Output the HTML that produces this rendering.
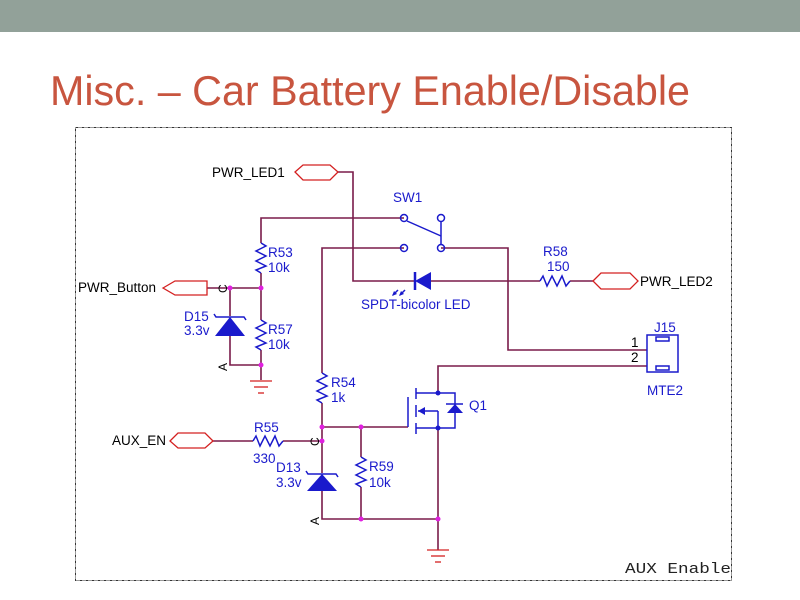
<!DOCTYPE html>
<html><head><meta charset="utf-8"><style>
html,body{margin:0;padding:0;background:#fff;width:800px;height:600px;overflow:hidden}
</style></head><body>
<svg width="800" height="600" viewBox="0 0 800 600" xmlns="http://www.w3.org/2000/svg" font-family="Liberation Sans, sans-serif">
<rect x="0" y="0" width="800" height="32" fill="#92a199"/>
<text x="50" y="105" font-size="42" fill="#c8553f" textLength="640" lengthAdjust="spacingAndGlyphs">Misc. – Car Battery Enable/Disable</text>
<rect x="75.5" y="127.5" width="656" height="453" fill="none" stroke="#333" stroke-width="1" stroke-dasharray="3,1,1,1"/>
<g fill="none" stroke="#7a1c4a" stroke-width="1.6">
<polyline points="338,172 353,172 353,281 415,281"/>
<polyline points="404,218 261,218 261,243"/>
<line x1="261" y1="273" x2="261" y2="320"/>
<line x1="261" y1="350" x2="261" y2="380"/>
<polyline points="207,288 261,288"/>
<polyline points="230,288 230,316"/>
<polyline points="230,336 230,365 261,365"/>
<polyline points="404,248 322,248 322,373"/>
<polyline points="441,248 508,248 508,350 647,350"/>
<polyline points="431,281 540,281"/>
<polyline points="570,281 593,281"/>
<polyline points="438,393 438,366 647,366"/>
<line x1="322" y1="403" x2="322" y2="473"/>
<polyline points="322,427 408,427"/>
<line x1="361" y1="427" x2="361" y2="457"/>
<line x1="361" y1="487" x2="361" y2="519"/>
<polyline points="322,490 322,519 438,519"/>
<line x1="438" y1="428" x2="438" y2="550"/>
<polyline points="213,441 253,441"/>
<polyline points="283,441 322,441"/>
</g>
<g fill="none" stroke="#d42020" stroke-width="1.3">
<polygon points="295,172 303,165 330,165 338,172 330,180 303,180"/>
<polygon points="163,288 175,281 207,281 207,295 175,295"/>
<polygon points="593,281 601,273 630,273 638,281 630,289 601,289"/>
<polygon points="170,441 178,433 205,433 213,441 205,448 178,448"/>
<line x1="250" y1="381" x2="272" y2="381"/><line x1="254" y1="387" x2="268" y2="387"/><line x1="258" y1="393" x2="264" y2="393"/>
<line x1="427" y1="550" x2="449" y2="550"/><line x1="431" y1="556" x2="445" y2="556"/><line x1="435" y1="562" x2="441" y2="562"/>
</g>
<g fill="none" stroke="#1a1acc" stroke-width="1.5">
<polyline points="261,243 266,246 256,251 266,256 256,261 266,266 256,270 261,273"/>
<polyline points="261,320 266,323 256,328 266,333 256,338 266,343 256,347 261,350"/>
<polyline points="322,373 327,376 317,381 327,386 317,391 327,396 317,400 322,403"/>
<polyline points="361,457 366,460 356,465 366,470 356,475 366,480 356,484 361,487"/>
<polyline points="540,281 543,276 547,286 552,276 557,286 562,276 566,286 570,281"/>
<polyline points="253,441 256,436 260,446 265,436 270,446 275,436 279,446 283,441"/>
<circle cx="404" cy="218" r="3.5"/><circle cx="441" cy="218" r="3.5"/>
<circle cx="404" cy="248" r="3.5"/><circle cx="441" cy="248" r="3.5"/>
<line x1="407" y1="221" x2="441" y2="236"/><line x1="441" y1="222" x2="441" y2="244"/>
<line x1="415" y1="272" x2="415" y2="290" stroke-width="2.5"/>
<line x1="398" y1="290" x2="393" y2="295"/><line x1="405" y1="290" x2="400" y2="295"/>
<polyline points="214,314 216,317 244,317 246,320"/>
<polyline points="306,471 308,474 336,474 338,477"/>
<line x1="408" y1="397" x2="408" y2="427"/>
<line x1="416" y1="388" x2="416" y2="399"/><line x1="416" y1="405" x2="416" y2="417"/><line x1="416" y1="423" x2="416" y2="434"/>
<polyline points="416,393 455,393 455,428 416,428"/>
<line x1="418" y1="411" x2="438" y2="411"/><line x1="438" y1="411" x2="438" y2="428"/>
<line x1="446" y1="404" x2="463" y2="404"/>
<rect x="647" y="335" width="31" height="37"/>
<rect x="656" y="337" width="13" height="4"/><rect x="656" y="366" width="13" height="4"/>
</g>
<g fill="#1a1acc">
<polygon points="415,281 431,272 431,290"/>
<polygon points="230,317 215,336 245,336"/>
<polygon points="322,474 307,491 337,491"/>
<polygon points="455,404 447,413 463,413"/>
<polygon points="418,411 425,407 425,415"/>
<polygon points="392,296 397,294 394,291"/><polygon points="399,296 404,294 401,291"/>
<circle cx="438" cy="393" r="2.5"/><circle cx="438" cy="428" r="2.5"/>
</g>
<g fill="#e020e0">
<circle cx="230" cy="288" r="2.5"/><circle cx="261" cy="288" r="2.5"/><circle cx="261" cy="365" r="2.5"/>
<circle cx="322" cy="427" r="2.5"/><circle cx="361" cy="427" r="2.5"/><circle cx="322" cy="441" r="2.5"/>
<circle cx="361" cy="519" r="2.5"/><circle cx="438" cy="519" r="2.5"/>
</g>
<g font-size="13.5" fill="#000">
<text x="212" y="177">PWR_LED1</text>
<text x="78" y="292">PWR_Button</text>
<text x="640" y="286">PWR_LED2</text>
<text x="112" y="445">AUX_EN</text>
<text x="631" y="347">1</text><text x="631" y="362">2</text>
</g>
<g font-size="13.5" fill="#1a1acc">
<text x="393" y="202">SW1</text>
<text x="268" y="257">R53</text><text x="268" y="272">10k</text>
<text x="268" y="334">R57</text><text x="268" y="349">10k</text>
<text x="184" y="321">D15</text><text x="184" y="335">3.3v</text>
<text x="361" y="309">SPDT-bicolor LED</text>
<text x="543" y="256">R58</text><text x="547" y="271">150</text>
<text x="654" y="332">J15</text><text x="647" y="395">MTE2</text>
<text x="331" y="387">R54</text><text x="331" y="402">1k</text>
<text x="469" y="410">Q1</text>
<text x="254" y="432">R55</text><text x="253" y="463">330</text>
<text x="276" y="472">D13</text><text x="276" y="487">3.3v</text>
<text x="369" y="471">R59</text><text x="369" y="487">10k</text>
</g>
<g font-size="12" fill="#000">
<text transform="translate(227,293) rotate(-90)">C</text>
<text transform="translate(227,371) rotate(-90)">A</text>
<text transform="translate(319,446) rotate(-90)">C</text>
<text transform="translate(319,525) rotate(-90)">A</text>
</g>
<text x="625" y="573" font-family="Liberation Mono, monospace" font-size="15" fill="#222" textLength="106" lengthAdjust="spacingAndGlyphs">AUX Enable</text>
</svg>
</body></html>
